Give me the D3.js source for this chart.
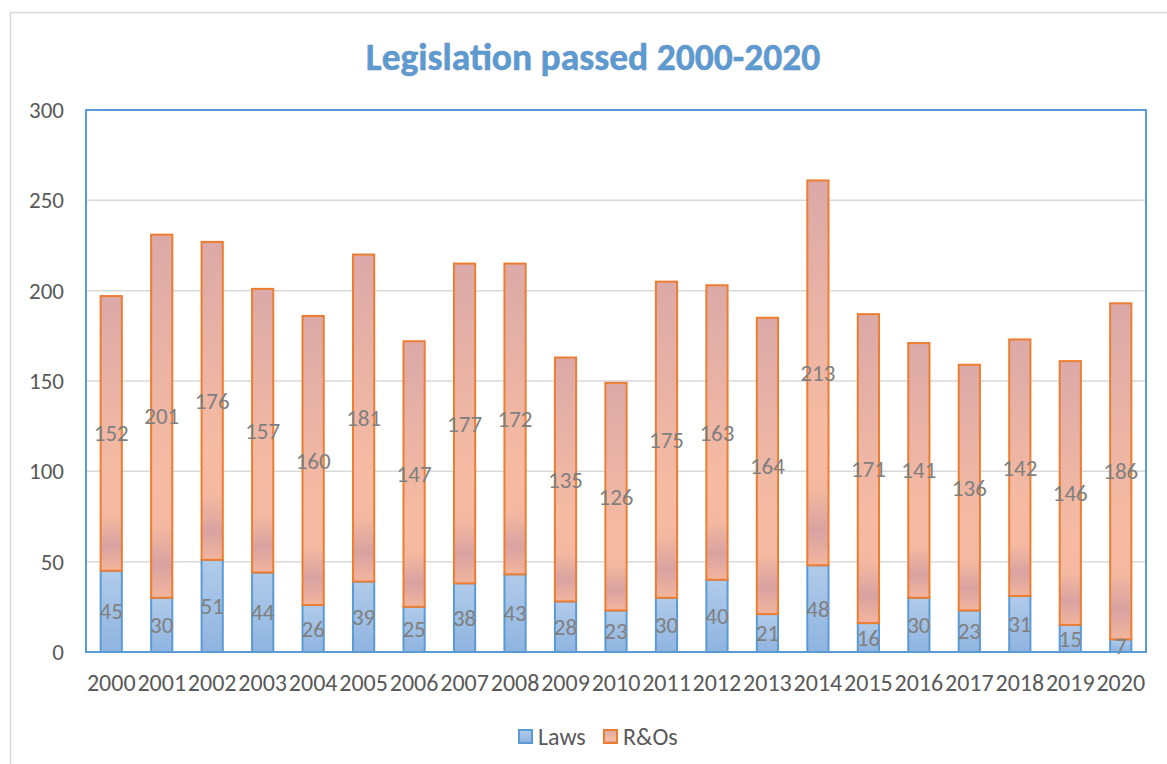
<html>
<head>
	<meta charset="UTF-8">
	<title>Legislation passed 2000-2020</title>
	<script src="https://cdn.jsdelivr.net/npm/d3@7"></script>
	<style>
		body {
			padding: 0;
			margin: 0;
			background: #fff;
		}
	</style>
</head>
<body>
	<script>
		var w = 1167,
			h = 764;

		var years = ["2000", "2001", "2002", "2003", "2004", "2005", "2006", "2007", "2008", "2009", "2010",
			"2011", "2012", "2013", "2014", "2015", "2016", "2017", "2018", "2019", "2020"];
		var laws = [45, 30, 51, 44, 26, 39, 25, 38, 43, 28, 23, 30, 40, 21, 48, 16, 30, 23, 31, 15, 7];
		var ros = [152, 201, 176, 157, 160, 181, 147, 177, 172, 135, 126, 175, 163, 164, 213, 171, 141, 136, 142, 146, 186];
		var yTicks = [0, 50, 100, 150, 200, 250, 300];
		var seriesNames = ["Laws", "R&Os"];

		var font = "Carlito, Calibri, Lato, sans-serif";
		var plotLeft = 86, plotRight = 1146, plotTop = 110, plotBottom = 652;

		var svg = d3.select("body").append("svg")
			.attr("width", w)
			.attr("height", h);

		// gradients
		var defs = svg.append("defs");
		var gB = defs.append("linearGradient").attr("id", "gLaws")
			.attr("x1", 0).attr("y1", 0).attr("x2", 0).attr("y2", 1);
		gB.append("stop").attr("offset", "0%").attr("stop-color", "#b1cbea");
		gB.append("stop").attr("offset", "100%").attr("stop-color", "#8fb4e0");

		var gO = defs.append("linearGradient").attr("id", "gRos")
			.attr("x1", 0).attr("y1", 0).attr("x2", 0).attr("y2", 1);
		gO.append("stop").attr("offset", "0%").attr("stop-color", "#dba9a8");
		gO.append("stop").attr("offset", "66%").attr("stop-color", "#f6bba2");
		gO.append("stop").attr("offset", "80%").attr("stop-color", "#f4b9a0");
		gO.append("stop").attr("offset", "91%").attr("stop-color", "#d9a2a1");
		gO.append("stop").attr("offset", "100%").attr("stop-color", "#f2b59d");

		// outer chart border
		svg.append("path")
			.attr("d", "M10.5," + h + "V12.5H" + w)
			.attr("fill", "none")
			.attr("stroke", "#d9d9d9")
			.attr("stroke-width", 1.5);

		var x = d3.scaleBand().domain(years).range([plotLeft, plotRight]).paddingInner(0.58).paddingOuter(0.29);
		var y = d3.scaleLinear().domain([0, 300]).range([plotBottom, plotTop]);

		// gridlines
		svg.append("g").selectAll("line").data(yTicks).enter().append("line")
			.attr("x1", plotLeft).attr("x2", plotRight)
			.attr("y1", function (d) { return y(d); })
			.attr("y2", function (d) { return y(d); })
			.attr("stroke", "#d9d9d9")
			.attr("stroke-width", 1.5);

		// y axis labels
		var yAxis = svg.append("g")
			.attr("transform", "translate(" + plotLeft + ",0)")
			.call(d3.axisLeft(y).tickValues(yTicks).tickSize(0).tickPadding(22));
		yAxis.select(".domain").remove();
		yAxis.selectAll("text")
			.attr("font-family", font)
			.attr("font-size", 23)
			.attr("fill", "#595959");

		// x axis labels
		var xAxis = svg.append("g")
			.attr("transform", "translate(0," + plotBottom + ")")
			.call(d3.axisBottom(x).tickSize(0).tickPadding(22));
		xAxis.select(".domain").remove();
		xAxis.selectAll("text")
			.attr("font-family", font)
			.attr("font-size", 24)
			.attr("fill", "#595959");

		// bars
		var bars = svg.append("g");
		years.forEach(function (yr, i) {
			var x0 = x(yr), bw = x.bandwidth();
			bars.append("rect")
				.attr("x", x0).attr("width", bw)
				.attr("y", y(laws[i])).attr("height", y(0) - y(laws[i]))
				.attr("fill", "url(#gLaws)")
				.attr("stroke", "#5b9bd5")
				.attr("stroke-width", 2);
			bars.append("rect")
				.attr("x", x0).attr("width", bw)
				.attr("y", y(laws[i] + ros[i])).attr("height", y(laws[i]) - y(laws[i] + ros[i]))
				.attr("fill", "url(#gRos)")
				.attr("stroke", "#ed7d31")
				.attr("stroke-width", 2);
		});

		// data labels
		var labels = svg.append("g")
			.attr("font-family", font)
			.attr("font-size", 23)
			.attr("fill", "#7f7f7f")
			.attr("text-anchor", "middle");
		years.forEach(function (yr, i) {
			var cx = x(yr) + x.bandwidth() / 2;
			labels.append("text")
				.attr("x", cx)
				.attr("y", (y(0) + y(laws[i])) / 2)
				.attr("dy", "0.35em")
				.text(laws[i]);
			labels.append("text")
				.attr("x", cx)
				.attr("y", (y(laws[i]) + y(laws[i] + ros[i])) / 2)
				.attr("dy", "0.35em")
				.text(ros[i]);
		});

		// plot area border
		svg.append("rect")
			.attr("x", plotLeft).attr("y", plotTop)
			.attr("width", plotRight - plotLeft).attr("height", plotBottom - plotTop)
			.attr("fill", "none")
			.attr("stroke", "#5b9bd5")
			.attr("stroke-width", 2);

		// title
		svg.append("text")
			.attr("x", 593).attr("y", 70)
			.attr("text-anchor", "middle")
			.attr("font-family", font)
			.attr("font-weight", "bold")
			.attr("font-size", 37.5)
			.attr("fill", "#5b9bd5")
			.attr("stroke", "#6f8fb0")
			.attr("stroke-width", 0.5)
			.text("Legislation passed 2000-2020");

		// legend
		var legFill = ["url(#gLaws)", "url(#gRos)"];
		var legStroke = ["#5b9bd5", "#ed7d31"];
		var legX = [519, 604];
		var legend = svg.append("g");
		seriesNames.forEach(function (name, i) {
			legend.append("rect")
				.attr("x", legX[i]).attr("y", 730)
				.attr("width", 13).attr("height", 13)
				.attr("fill", legFill[i])
				.attr("stroke", legStroke[i])
				.attr("stroke-width", 2);
			legend.append("text")
				.attr("x", legX[i] + 19).attr("y", 745)
				.attr("font-family", font)
				.attr("font-size", 24)
				.attr("fill", "#595959")
				.text(name);
		});
	</script>
</body>
</html>
